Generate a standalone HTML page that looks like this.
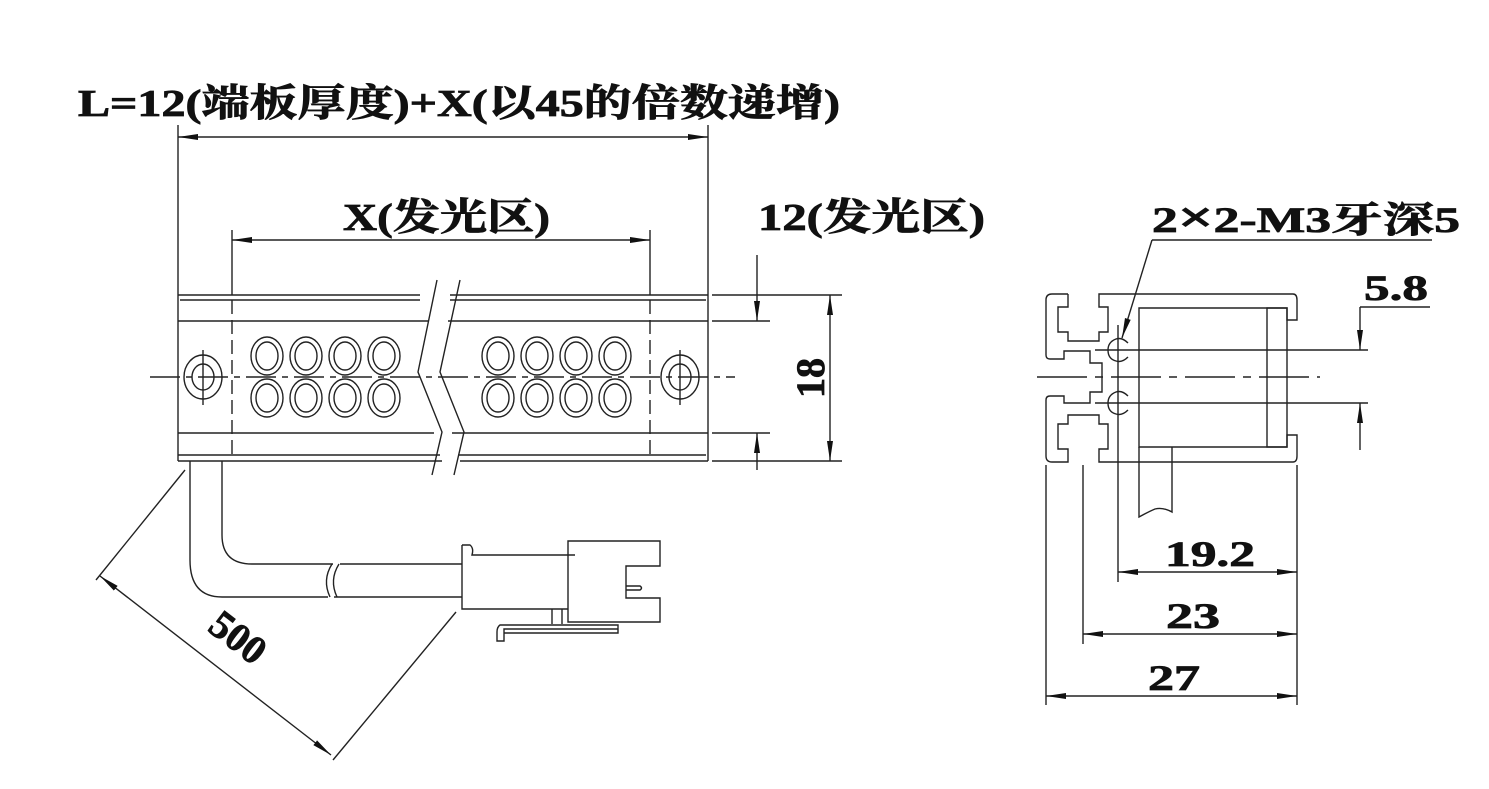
<!DOCTYPE html>
<html><head><meta charset="utf-8"><style>
html,body{margin:0;padding:0;background:#fff;}
svg{display:block}
text{font-family:"Liberation Serif","Noto Serif CJK SC","Noto Sans CJK SC",serif;font-weight:bold;fill:#111;stroke:#111;stroke-width:0.8}
</style></head><body>
<svg width="1489" height="789" viewBox="0 0 1489 789" xmlns="http://www.w3.org/2000/svg">
<defs>
<marker id="a" viewBox="0 0 20 8" refX="20" refY="4" markerWidth="20" markerHeight="8" markerUnits="userSpaceOnUse" orient="auto-start-reverse"><path d="M0,1 L20,4 L0,7 Z" fill="#111"/></marker>
</defs>
<g stroke="#222" stroke-width="1.4" fill="none">
<line x1="178" y1="125" x2="178" y2="295"/>
<line x1="708" y1="125" x2="708" y2="295"/>
<line x1="178" y1="137" x2="708" y2="137" marker-start="url(#a)" marker-end="url(#a)"/>
<line x1="232" y1="230" x2="232" y2="295"/>
<line x1="650" y1="230" x2="650" y2="295"/>
<line x1="232" y1="240" x2="650" y2="240" marker-start="url(#a)" marker-end="url(#a)"/>
<path d="M178,295 H420 M450,295 H708 M180,300 H420 M450,300 H706"/>
<path d="M178,321 H428 M448,321 H708 M178,433 H434 M452,433 H708 M178,455 H440 M458,455 H706 M178,461 H442 M460,461 H708"/>
<line x1="178" y1="295" x2="178" y2="461"/><line x1="708" y1="295" x2="708" y2="461"/>
<path d="M232,300 V455 M650,300 V455" stroke-dasharray="14,6"/>
<path d="M437,280 L418,372 L442,432 L432,475"/>
<path d="M460,280 L440,372 L464,432 L454,475"/>
<line x1="150" y1="377" x2="735" y2="377" stroke-dasharray="30,6,6,6"/>
<ellipse cx="203" cy="377" rx="19" ry="22"/><ellipse cx="203" cy="377" rx="11" ry="13"/>
<line x1="203" y1="350" x2="203" y2="405"/>
<ellipse cx="680" cy="377" rx="19" ry="22"/><ellipse cx="680" cy="377" rx="11" ry="13"/>
<line x1="680" y1="350" x2="680" y2="405"/>
<g>
<ellipse cx="267" cy="356" rx="16" ry="19"/><ellipse cx="267" cy="356" rx="11" ry="14"/>
<ellipse cx="306" cy="356" rx="16" ry="19"/><ellipse cx="306" cy="356" rx="11" ry="14"/>
<ellipse cx="345" cy="356" rx="16" ry="19"/><ellipse cx="345" cy="356" rx="11" ry="14"/>
<ellipse cx="384" cy="356" rx="16" ry="19"/><ellipse cx="384" cy="356" rx="11" ry="14"/>
<ellipse cx="267" cy="398" rx="16" ry="19"/><ellipse cx="267" cy="398" rx="11" ry="14"/>
<ellipse cx="306" cy="398" rx="16" ry="19"/><ellipse cx="306" cy="398" rx="11" ry="14"/>
<ellipse cx="345" cy="398" rx="16" ry="19"/><ellipse cx="345" cy="398" rx="11" ry="14"/>
<ellipse cx="384" cy="398" rx="16" ry="19"/><ellipse cx="384" cy="398" rx="11" ry="14"/>
<ellipse cx="498" cy="356" rx="16" ry="19"/><ellipse cx="498" cy="356" rx="11" ry="14"/>
<ellipse cx="537" cy="356" rx="16" ry="19"/><ellipse cx="537" cy="356" rx="11" ry="14"/>
<ellipse cx="576" cy="356" rx="16" ry="19"/><ellipse cx="576" cy="356" rx="11" ry="14"/>
<ellipse cx="615" cy="356" rx="16" ry="19"/><ellipse cx="615" cy="356" rx="11" ry="14"/>
<ellipse cx="498" cy="398" rx="16" ry="19"/><ellipse cx="498" cy="398" rx="11" ry="14"/>
<ellipse cx="537" cy="398" rx="16" ry="19"/><ellipse cx="537" cy="398" rx="11" ry="14"/>
<ellipse cx="576" cy="398" rx="16" ry="19"/><ellipse cx="576" cy="398" rx="11" ry="14"/>
<ellipse cx="615" cy="398" rx="16" ry="19"/><ellipse cx="615" cy="398" rx="11" ry="14"/>
</g>
<line x1="712" y1="321" x2="770" y2="321"/><line x1="712" y1="433" x2="770" y2="433"/>
<line x1="757" y1="255" x2="757" y2="321" marker-end="url(#a)"/>
<line x1="757" y1="470" x2="757" y2="433" marker-end="url(#a)"/>
<line x1="712" y1="295" x2="842" y2="295"/><line x1="712" y1="461" x2="842" y2="461"/>
<line x1="830" y1="295" x2="830" y2="461" marker-start="url(#a)" marker-end="url(#a)"/>
<path d="M190,461 V560 Q190,597 222,597 H328 M334,597 H462"/>
<path d="M222,461 V535 Q222,564 252,564 H333 M340,564 H462"/>
<path d="M332,564 Q322,580 330,597 M339,564 Q329,580 337,597"/>
<path d="M462,545 H470 Q474,548 472,555 H575 M462,545 V609 H568"/>
<path d="M568,541 H660 V566 H626 V598 H660 V622 H568 Z"/>
<path d="M626,586 H640 Q643,588 640,590 H626"/>
<path d="M552,609 V624 M562,609 V624"/>
<path d="M497,641 H504 V633 H618 V625 H500 Q497,627 497,632 Z M504,633 V629 H618"/>
<line x1="185" y1="470" x2="96" y2="580"/>
<line x1="456" y1="612" x2="333" y2="760"/>
<line x1="100" y1="576" x2="331" y2="755" marker-start="url(#a)" marker-end="url(#a)"/>
</g>

<g stroke="#222" stroke-width="1.4" fill="none">
<path d="M1068,294 H1052 Q1046,294 1046,300 V355 Q1046,359 1050,359 H1064 V351 H1090 V363 H1102 V377"/>
<path d="M1068,294 V307 H1058 V332 H1068 V341 H1099 V332 H1108 V307 H1099 V294 H1293 Q1297,294 1297,300 V320 H1287 V308 H1139 V447 H1287 V435 H1297 V456 Q1297,462 1293,462 H1099 V449 H1108 V424 H1099 V415 H1068 V424 H1058 V449 H1068 V462 H1052 Q1046,462 1046,456 V400 Q1046,396 1050,396 H1064 V403 H1090 V392 H1102 V377"/>
<rect x="1267" y="308" width="20" height="139"/>
<path d="M1139,447 V517 Q1150,511 1155,509 Q1163,507 1172,512 V447"/>
<path d="M1128,343 Q1122,337 1116,339 Q1108,342 1108,350 Q1108,359 1116,361 Q1122,363 1128,357"/>
<path d="M1128,396 Q1122,390 1116,392 Q1108,395 1108,403 Q1108,412 1116,414 Q1122,416 1128,410"/>
<line x1="1095" y1="350" x2="1368" y2="350"/>
<line x1="1095" y1="403" x2="1368" y2="403"/>
<line x1="1037" y1="377" x2="1320" y2="377" stroke-dasharray="50,8,8,8"/>
<line x1="1118" y1="325" x2="1118" y2="582"/>
<line x1="1046" y1="465" x2="1046" y2="705"/>
<line x1="1083" y1="465" x2="1083" y2="644"/>
<line x1="1297" y1="465" x2="1297" y2="705"/>
<line x1="1118" y1="572" x2="1297" y2="572" marker-start="url(#a)" marker-end="url(#a)"/>
<line x1="1083" y1="634" x2="1297" y2="634" marker-start="url(#a)" marker-end="url(#a)"/>
<line x1="1046" y1="696" x2="1297" y2="696" marker-start="url(#a)" marker-end="url(#a)"/>
<line x1="1360" y1="307" x2="1430" y2="307"/>
<line x1="1360" y1="307" x2="1360" y2="350" marker-end="url(#a)"/>
<line x1="1360" y1="450" x2="1360" y2="403" marker-end="url(#a)"/>
<line x1="1152" y1="240" x2="1432" y2="240"/>
<line x1="1152" y1="240" x2="1122" y2="338" marker-end="url(#a)"/>
</g>

<text x="78" y="116" font-size="38" textLength="762" lengthAdjust="spacingAndGlyphs">L=12(端板厚度)+X(以45的倍数递增)</text>
<text x="343" y="230" font-size="38" textLength="207" lengthAdjust="spacingAndGlyphs">X(发光区)</text>
<text x="758" y="230" font-size="38" textLength="227" lengthAdjust="spacingAndGlyphs">12(发光区)</text>
<text x="0" y="0" font-size="40" transform="translate(824,378) rotate(-90)" text-anchor="middle">18</text>
<text x="0" y="0" font-size="40" transform="translate(230,648) rotate(37.5)" text-anchor="middle">500</text>
<text x="1152" y="232" font-size="36" textLength="308" lengthAdjust="spacingAndGlyphs">2<tspan font-size="44">×</tspan>2-M3牙深5</text>
<text x="1364" y="300" font-size="36" textLength="64" lengthAdjust="spacingAndGlyphs">5.8</text>
<text x="1165" y="566" font-size="36" textLength="90" lengthAdjust="spacingAndGlyphs">19.2</text>
<text x="1166" y="628" font-size="36" textLength="54" lengthAdjust="spacingAndGlyphs">23</text>
<text x="1148" y="690" font-size="36" textLength="52" lengthAdjust="spacingAndGlyphs">27</text>
</svg>
</body></html>
